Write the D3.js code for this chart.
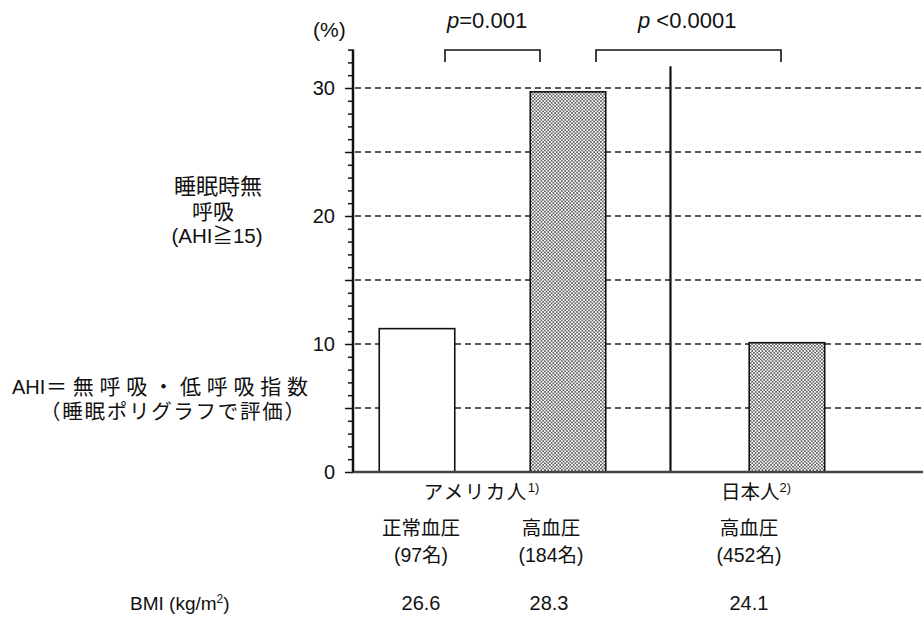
<!DOCTYPE html>
<html>
<head>
<meta charset="utf-8">
<script src="https://cdn.jsdelivr.net/npm/d3@7"></script>
<style>
  body { margin: 0; background: #fff; }
  text { font-family: "Liberation Sans", Arial, "Noto Sans CJK JP", sans-serif; fill: #111; }
</style>
</head>
<body>
<div id="chart"></div>
<script>
// data
const groups = ["正常血圧", "高血圧", "高血圧"];
const counts = ["(97名)", "(184名)", "(452名)"];
const values = [11.2, 29.7, 10.1];
const bmi = ["26.6", "28.3", "24.1"];
const dotted = [false, true, true];
const slots = [0, 1, 2.45];          // category slot on the x scale
const yTicks = [0, 10, 20, 30];
const gridVals = [5, 10, 15, 20, 25, 30];
const pLabels = [{ op: "=0.001", from: 0, to: 1 }, { op: " <0.0001", from: 1, to: 2.45 }];

const W = 923, H = 624;
const svg = d3.select("#chart").append("svg")
    .attr("width", W)
    .attr("height", H);

const y = d3.scaleLinear().domain([0, 33]).range([472, 49.6]);
const x = d3.scaleLinear().domain([0, 1]).range([417, 568]);
const barW = x(0.5) - x(0);
const axisX = 353;

// dot screen pattern
const defs = svg.append("defs");
const pat = defs.append("pattern")
    .attr("id", "dots")
    .attr("width", 3.4).attr("height", 3.4)
    .attr("patternUnits", "userSpaceOnUse");
pat.append("rect").attr("width", 3.4).attr("height", 3.4).attr("fill", "#fff");
pat.append("circle").attr("cx", 0.85).attr("cy", 0.85).attr("r", 0.8).attr("fill", "#1a1a1a");
pat.append("circle").attr("cx", 2.55).attr("cy", 2.55).attr("r", 0.8).attr("fill", "#1a1a1a");

// dashed grid
svg.append("g").selectAll("line")
    .data(gridVals)
    .join("line")
    .attr("x1", axisX + 2).attr("x2", W)
    .attr("y1", d => y(d)).attr("y2", d => y(d))
    .attr("stroke", "#222")
    .attr("stroke-width", 1.5)
    .attr("stroke-dasharray", "6,4");

// bars
svg.append("g").selectAll("rect")
    .data(values)
    .join("rect")
    .attr("x", (d, i) => x(slots[i]) - barW / 2)
    .attr("width", barW)
    .attr("y", d => y(d))
    .attr("height", d => y(0) - y(d))
    .attr("fill", (d, i) => dotted[i] ? "url(#dots)" : "#fff")
    .attr("stroke", "#111")
    .attr("stroke-width", 1.6);

// divider between American and Japanese groups
const divX = (x(1) + x(2.45)) / 2 - 7;
svg.append("line")
    .attr("x1", divX).attr("x2", divX)
    .attr("y1", y(31.7)).attr("y2", y(0))
    .attr("stroke", "#111").attr("stroke-width", 2.2);

// baseline
svg.append("line")
    .attr("x1", axisX).attr("x2", W)
    .attr("y1", y(0)).attr("y2", y(0))
    .attr("stroke", "#444").attr("stroke-width", 2.5);

// y axis with minor ticks on the left
const axis = d3.axisLeft(y)
    .tickValues(d3.range(0, 34, 1))
    .tickSize(5)
    .tickFormat(d => yTicks.includes(d) ? d : "");
const gAxis = svg.append("g")
    .attr("transform", `translate(${axisX},0)`)
    .call(axis);
gAxis.select(".domain").attr("stroke", "#111").attr("stroke-width", 2.5).attr("d", `M0,${y(33)}V${y(0)}`);
gAxis.selectAll(".tick line").attr("stroke", "#111").attr("stroke-width", 1.5)
    .attr("x2", d => d % 5 === 0 ? -8 : -5);
gAxis.selectAll(".tick text")
    .attr("x", -18)
    .style("font-size", "20px")
    .style("font-family", "Liberation Sans, Arial, sans-serif")
    .attr("fill", "#111");

svg.append("text").attr("x", 313).attr("y", 37)
    .style("font-size", "21px").text("(%)");

// significance brackets
const brX = [[445, 540], [596, 781]];
pLabels.forEach((p, i) => {
    const [a, b] = brX[i];
    svg.append("path")
        .attr("d", `M${a},62V50H${b}V62`)
        .attr("fill", "none").attr("stroke", "#111").attr("stroke-width", 1.6);
    const t = svg.append("text")
        .attr("x", i === 0 ? 447 : 638).attr("y", 28)
        .style("font-size", "22px");
    t.append("tspan").style("font-style", "italic").text("p");
    t.append("tspan").text(p.op);
});

// left side labels
const leftTitle = [
    { t: "睡眠時無", cx: 218, fs: 22 },
    { t: "呼吸", cx: 213, fs: 21 },
    { t: "(AHI≧15)", cx: 217, fs: 20.5 }
];
svg.append("g").selectAll("text")
    .data(leftTitle)
    .join("text")
    .attr("x", d => d.cx)
    .attr("y", (d, i) => 194 + i * 24.5)
    .attr("text-anchor", "middle")
    .style("font-size", d => d.fs + "px")
    .text(d => d.t);

svg.append("text").attr("x", 12).attr("y", 394)
    .style("font-size", "20px")
    .text("AHI");
svg.append("text").attr("x", 46).attr("y", 394)
    .attr("textLength", 262).attr("lengthAdjust", "spacing")
    .style("font-size", "21px")
    .text("＝無呼吸・低呼吸指数");
svg.append("text").attr("x", 40).attr("y", 419)
    .attr("textLength", 265).attr("lengthAdjust", "spacing")
    .style("font-size", "20.5px")
    .text("（睡眠ポリグラフで評価）");

// category labels under the bars
const labelShift = [4, -17, -38];
const catG = svg.append("g");
groups.forEach((g, i) => {
    const cx = x(slots[i]) + labelShift[i];
    catG.append("text").attr("x", cx).attr("y", 535)
        .attr("text-anchor", "middle").style("font-size", "19.5px").text(g);
    catG.append("text").attr("x", cx).attr("y", 562)
        .attr("text-anchor", "middle").style("font-size", "19.5px").text(counts[i]);
    catG.append("text").attr("x", cx + (i === 1 ? -2 : 0)).attr("y", 610)
        .attr("text-anchor", "middle").style("font-size", "20px").text(bmi[i]);
});

const country = [
    { name: "アメリカ人", sup: "1)", cx: (x(0) + x(1)) / 2 - 11 },
    { name: "日本人", sup: "2)", cx: x(2.45) - 31 }
];
country.forEach(c => {
    const t = svg.append("text").attr("x", c.cx).attr("y", 499)
        .attr("text-anchor", "middle").style("font-size", "19.5px");
    t.append("tspan").attr("letter-spacing", c.name.length > 3 ? "1.5px" : "0px").text(c.name);
    t.append("tspan").attr("dy", -7).style("font-size", "13px").text(c.sup);
});

const bmiT = svg.append("text").attr("x", 130).attr("y", 610).style("font-size", "19px");
bmiT.append("tspan").text("BMI (kg/m");
bmiT.append("tspan").attr("dy", -7).style("font-size", "12px").text("2");
bmiT.append("tspan").attr("dy", 7).text(")");
</script>
</body>
</html>
